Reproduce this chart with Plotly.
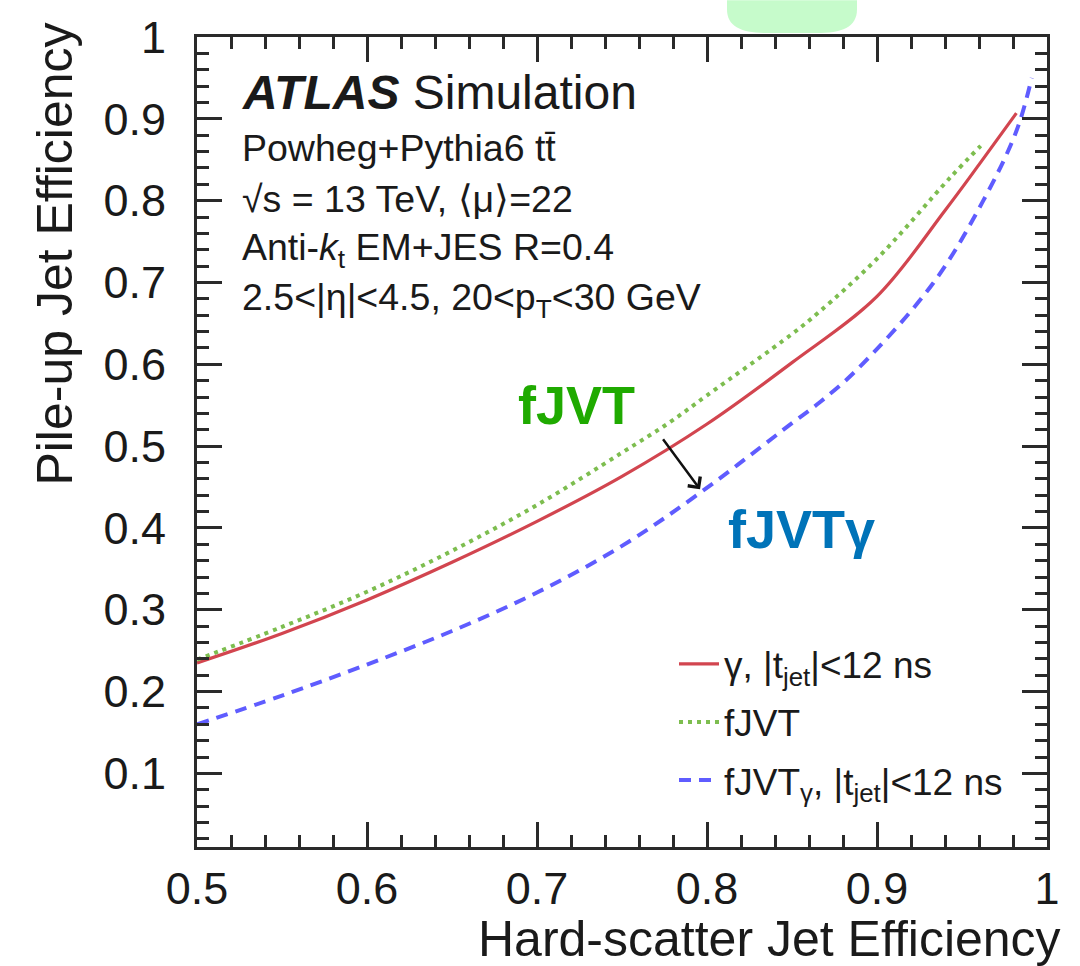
import plotly.graph_objects as go

# ---------------- data ----------------
x_red = [0.50, 0.55, 0.60, 0.65, 0.70, 0.75, 0.80, 0.85, 0.90, 0.94, 0.96, 0.982]
y_red = [0.235, 0.271, 0.312, 0.358, 0.408, 0.463, 0.527, 0.602, 0.683, 0.788, 0.844, 0.907]

x_green = [0.50, 0.55, 0.60, 0.65, 0.70, 0.75, 0.778, 0.80, 0.85, 0.866, 0.90, 0.943, 0.961]
y_green = [0.239, 0.279, 0.322, 0.372, 0.428, 0.492, 0.529, 0.562, 0.637, 0.664, 0.729, 0.828, 0.867]

x_blue = [0.50, 0.55, 0.60, 0.65, 0.70, 0.75, 0.796, 0.85, 0.866, 0.888, 0.933, 0.9625, 0.982, 0.991]
y_blue = [0.160, 0.195, 0.233, 0.274, 0.321, 0.378, 0.443, 0.528, 0.553, 0.593, 0.699, 0.800, 0.885, 0.950]

names = ["γ, |t<sub>jet</sub>|&lt;12 ns", "fJVT", "fJVT<sub>γ</sub>, |t<sub>jet</sub>|&lt;12 ns"]

x_tickvals = [0.5, 0.6, 0.7, 0.8, 0.9, 1.0]
x_ticktext = ["0.5", "0.6", "0.7", "0.8", "0.9", "1"]
y_tickvals = [0.1, 0.2, 0.3, 0.4, 0.5, 0.6, 0.7, 0.8, 0.9, 1.0]
y_ticktext = ["0.1", "0.2", "0.3", "0.4", "0.5", "0.6", "0.7", "0.8", "0.9", "1"]

info_lines = [
    "Powheg+Pythia6 tt\u0304",
    "\u221As = 13 TeV, \u27E8\u03BC\u27E9=22",
    "Anti-<i>k</i><sub>t</sub> EM+JES R=0.4",
    "2.5&lt;|\u03B7|&lt;4.5, 20&lt;p<sub>T</sub>&lt;30 GeV",
]

# ---------------- layout geometry ----------------
W, H = 1080, 966
L, R, T, B = 197, 33, 32, 119
PW, PH = W - L - R, H - T - B
FONT = "Liberation Sans, Arial, Helvetica, sans-serif"
X_RANGE = [0.5, 1.0]
Y_RANGE = [0.01, 1.0]


def px(xp):
    return (xp - L) / PW


def py(yp):
    return (H - B - yp) / PH


RED = "#d2454f"
GREEN = "#7dbd4f"
BLUE = "#5f5cff"
AX = "#2a2a2a"

fig = go.Figure()
fig.add_trace(go.Scatter(x=x_red, y=y_red, mode="lines", name=names[0],
                         line=dict(color=RED, width=3.2, shape="spline", smoothing=1.0),
                         legendgroup="a"))
fig.add_trace(go.Scatter(x=x_green, y=y_green, mode="lines", name=names[1],
                         line=dict(color=GREEN, width=4, dash="4px,5px", shape="spline", smoothing=1.0),
                         legendgroup="b"))
fig.add_trace(go.Scatter(x=x_blue, y=y_blue, mode="lines", name=names[2],
                         line=dict(color=BLUE, width=4, dash="12px,8px", shape="spline", smoothing=1.0),
                         legendgroup="c"))
# empty traces so the overlay tick axes get their own subplots
fig.add_trace(go.Scatter(x=[], y=[], xaxis="x2", yaxis="y2", showlegend=False, hoverinfo="skip"))
fig.add_trace(go.Scatter(x=[], y=[], xaxis="x3", yaxis="y3", showlegend=False, hoverinfo="skip"))

main = dict(
    showline=True, linewidth=3, linecolor=AX, mirror=True,
    ticks="", showgrid=False, zeroline=False,
    tickfont=dict(family=FONT, size=45, color="#1a1a1a"),
)
minor_ax = dict(
    showline=False, mirror="ticks", ticks="inside", ticklen=12, tickwidth=2.5, tickcolor=AX,
    showgrid=False, zeroline=False, showticklabels=False, tickmode="linear", dtick=0.02,
)
major_ax = dict(
    showline=False, mirror="ticks", ticks="inside", ticklen=25, tickwidth=3, tickcolor=AX,
    showgrid=False, zeroline=False, showticklabels=False, tickmode="linear", dtick=0.1, tick0=0.0,
)

fig.update_layout(
    xaxis=dict(range=X_RANGE, tickmode="array", tickvals=x_tickvals, ticktext=x_ticktext,
               ticklabelstandoff=0, **main),
    yaxis=dict(range=Y_RANGE, tickmode="array", tickvals=y_tickvals, ticktext=y_ticktext,
               ticklabelstandoff=19, **main),
    xaxis2=dict(range=X_RANGE, overlaying="x", anchor="y2", tick0=0.5, **minor_ax),
    yaxis2=dict(range=Y_RANGE, overlaying="y", anchor="x2", tick0=0.0, **minor_ax),
    xaxis3=dict(range=X_RANGE, overlaying="x", anchor="y3", **major_ax),
    yaxis3=dict(range=Y_RANGE, overlaying="y", anchor="x3", **major_ax),
)

annotations = []
# axis titles
annotations.append(dict(text="Hard-scatter Jet Efficiency", xref="paper", yref="paper",
                        x=px(1063), y=py(940), xanchor="right", yanchor="middle", showarrow=False,
                        font=dict(family=FONT, size=50, color="#1a1a1a")))
annotations.append(dict(text="Pile-up Jet Efficiency", xref="paper", yref="paper",
                        x=px(55), y=py(16), xanchor="center", yanchor="top", textangle=-90,
                        showarrow=False, font=dict(family=FONT, size=50, color="#1a1a1a")))
# ATLAS label
annotations.append(dict(text="<b><i>ATLAS</i></b> Simulation", xref="paper", yref="paper",
                        x=px(240), y=py(88), xanchor="left", yanchor="middle", showarrow=False,
                        font=dict(family=FONT, size=48, color="#1a1a1a")))
for i, t in enumerate(info_lines):
    annotations.append(dict(text=t, xref="paper", yref="paper",
                            x=px(240), y=py(144 + 51 * i), xanchor="left", yanchor="middle",
                            showarrow=False, font=dict(family=FONT, size=37.5, color="#1a1a1a")))
# overlay labels
annotations.append(dict(text="<b>fJVT</b>", xref="paper", yref="paper", x=px(516), y=py(402),
                        xanchor="left", yanchor="middle", showarrow=False,
                        font=dict(family=FONT, size=54, color="#1faa00")))
annotations.append(dict(text="<b>fJVT\u03B3</b>", xref="paper", yref="paper", x=px(726), y=py(527),
                        xanchor="left", yanchor="middle", showarrow=False,
                        font=dict(family=FONT, size=54, color="#0073b8")))
annotations.append(dict(text="", x=0.7959, y=0.4471, ax=0.7735, ay=0.5103, xref="x", yref="y",
                        axref="x", ayref="y", showarrow=True, arrowhead=4, arrowsize=1.2,
                        arrowwidth=2.5, arrowcolor="#111111"))

# light green blob at the top edge
x0, x1, yb = px(727), px(857), py(28)
yt = py(-5)
blob = (f"M {x0},{yt} L {x0},{py(4)} C {x0},{py(22)} {px(742)},{yb} {px(768)},{yb} "
        f"L {px(816)},{yb} C {px(842)},{yb} {x1},{py(22)} {x1},{py(4)} L {x1},{yt} Z")

fig.update_layout(
    width=W, height=H,
    margin=dict(l=L, r=R, t=T, b=B, pad=0),
    paper_bgcolor="white", plot_bgcolor="white",
    font=dict(family=FONT, color="#1a1a1a"),
    annotations=annotations,
    shapes=[dict(type="path", path=blob, xref="paper", yref="paper",
                 fillcolor="#c6fbcb", line=dict(width=0), layer="above")],
    showlegend=True,
    legend=dict(x=px(674), y=py(632), xanchor="left", yanchor="top",
                font=dict(family=FONT, size=37, color="#1a1a1a"),
                bgcolor="rgba(0,0,0,0)", borderwidth=0, tracegroupgap=7,
                itemwidth=40, traceorder="grouped"),
)

fig.write_html("out.html")
